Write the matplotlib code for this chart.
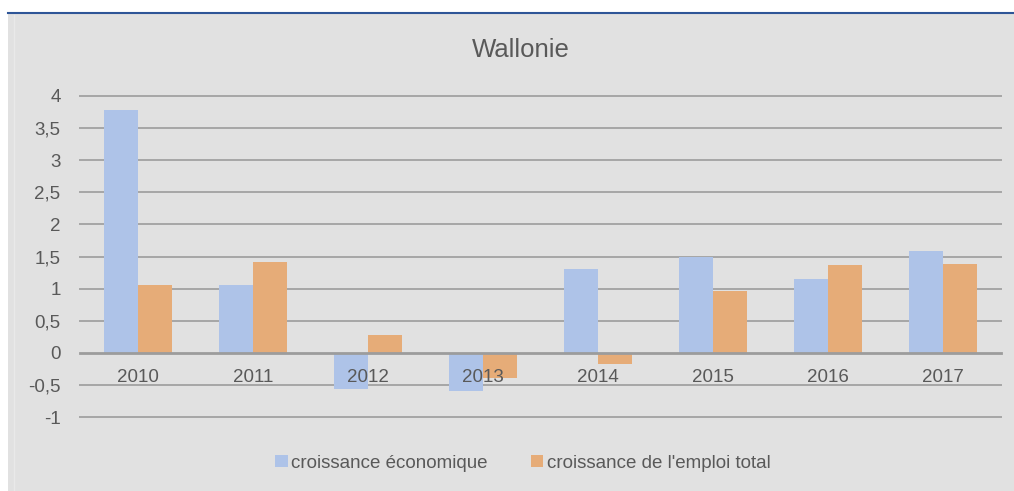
import matplotlib
matplotlib.use("Agg")
import matplotlib.pyplot as plt
from matplotlib.patches import Rectangle
from matplotlib.lines import Line2D
import numpy as np

plt.rcParams['font.family'] = ['Liberation Sans', 'DejaVu Sans']

years = ['2010', '2011', '2012', '2013', '2014', '2015', '2016', '2017']
croissance_eco = [3.78, 1.06, -0.57, -0.60, 1.31, 1.49, 1.15, 1.59]
croissance_emploi = [1.05, 1.42, 0.28, -0.40, -0.17, 0.96, 1.37, 1.39]
series_names = ['croissance économique', "croissance de l'emploi total"]
yticks = [-1, -0.5, 0, 0.5, 1, 1.5, 2, 2.5, 3, 3.5, 4]
ytick_labels = ['-1', '-0,5', '0', '0,5', '1', '1,5', '2', '2,5', '3', '3,5', '4']

blue = '#AEC3E8'
orange = '#E6AC78'
bg = '#E1E1E1'
text_c = '#595959'

W, H = 1014, 491
fig = plt.figure(figsize=(W/100, H/100), dpi=100, facecolor='white')
fig.patches.append(Rectangle((8/W, 0), 1 - 8/W, (H-14)/H, transform=fig.transFigure,
                             facecolor=bg, edgecolor='none', zorder=-10))
fig.lines.append(Line2D([8/W, 1], [(H-13)/H, (H-13)/H], transform=fig.transFigure,
                        color='#2E5597', linewidth=1.5, zorder=-5))
fig.lines.append(Line2D([13.5/W, 13.5/W], [0, (H-15)/H], transform=fig.transFigure,
                        color='#E9E9E9', linewidth=1.0, zorder=-5))

ax = fig.add_axes([80/W, (H-417)/H, (1001-80)/W, (417-96)/H])
ax.patch.set_visible(False)
x = np.arange(len(years))
bw = 0.295
ax.bar(x - bw/2, croissance_eco, bw, color=blue, label=series_names[0], zorder=2)
ax.bar(x + bw/2, croissance_emploi, bw, color=orange, label=series_names[1], zorder=2)

ax.set_xlim(-0.5, len(years) - 0.5)
ax.set_ylim(-1, 4)
ax.set_yticks(yticks)
ax.set_yticklabels(ytick_labels)
for yv in yticks:
    ax.axhline(yv, color='#A6A6A6' if yv != 0 else '#9C9C9C',
               linewidth=1.4 if yv != 0 else 2.0, zorder=1 if yv != 0 else 3, clip_on=False)

for s in ['top', 'right', 'left']:
    ax.spines[s].set_visible(False)
ax.spines['bottom'].set_position(('data', 0))
ax.spines['bottom'].set_visible(False)
ax.set_axisbelow(False)
ax.xaxis.set_zorder(4)
ax.set_xticks(x)
ax.set_xticklabels(years)
ax.tick_params(axis='x', length=0, pad=12, labelsize=13.5, labelcolor=text_c)
ax.tick_params(axis='y', length=0, pad=14, labelsize=13.5, labelcolor=text_c)

fig.text(521/W, (H-50)/H, 'Wallonie', ha='center', va='center', fontsize=18.5, color=text_c)

leg = fig.legend(loc='center', bbox_to_anchor=(523/W, (H-463)/H), ncol=2, frameon=False,
                 fontsize=13.5, handlelength=0.65, handleheight=0.65, handletextpad=0.2,
                 columnspacing=2.3, labelcolor=text_c)

fig.savefig('out.png', dpi=100, facecolor='white')
